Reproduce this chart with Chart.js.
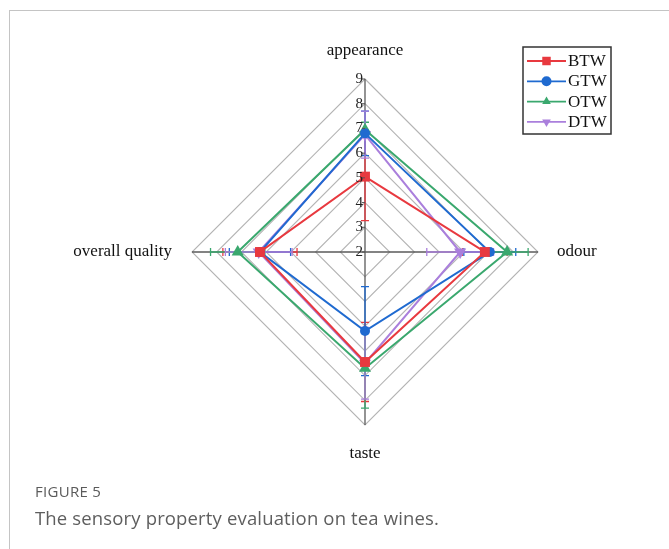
<!DOCTYPE html>
<html>
<head>
<meta charset="utf-8">
<script src="https://cdn.jsdelivr.net/npm/chart.js@4.4.0/dist/chart.umd.min.js"></script>
<style>
  html, body { margin: 0; padding: 0; background: #fff; }
  body { width: 669px; height: 549px; position: relative; overflow: hidden; }
  #frame { position: absolute; left: 9px; top: 10px; width: 700px; height: 600px;
           border-left: 1px solid #c4c4c4; border-top: 1px solid #c4c4c4; }
  #chart { position: absolute; left: 0; top: 0; }
  .fig { position: absolute; left: 35px; top: 481px; font: 400 15px "Open Sans", sans-serif; color: #5a5a5a; letter-spacing: 0.3px; }
  .cap { position: absolute; left: 35px; top: 505px; font: 400 18.5px "Open Sans", sans-serif; color: #5e5e5e; letter-spacing: 0.15px; }
</style>
</head>
<body>
<div id="frame"></div>
<canvas id="chart" width="669" height="549"></canvas>
<div class="fig">FIGURE 5</div>
<div class="cap">The sensory property evaluation on tea wines.</div>
<script>
// Sensory attributes (clockwise from the top)
const categories = ['appearance', 'odour', 'taste', 'overall quality'];
const seriesNames = ['BTW', 'GTW', 'OTW', 'DTW'];

// Mean scores per attribute
const btwScores = [5.05, 6.85, 6.45, 6.25];
const gtwScores = [6.8, 7.05, 5.2, 6.25];
const otwScores = [6.95, 7.75, 6.7, 7.15];
const dtwScores = [6.75, 5.85, 6.5, 6.3];

// Standard deviations per attribute
const btwErrors = [1.78, 0.9, 1.6, 1.5];
const gtwErrors = [0.9, 1.05, 1.8, 1.24];
const otwErrors = [0.3, 0.85, 1.62, 1.1];
const dtwErrors = [0.95, 1.35, 1.45, 1.35];

// Radial axis ticks
const tickValues = [2, 3, 4, 5, 6, 7, 8, 9];

const seriesColors = ['#e8393f', '#1f6ad0', '#3aa86e', '#aa7fdc'];
const pointStyles = ['rect', 'circle', 'triangle', 'triangle'];
const pointRotations = [0, 0, 0, 180];
const pointSizes = [7, 5, 7, 7];

const scores = [btwScores, gtwScores, otwScores, dtwScores];
const errors = [btwErrors, gtwErrors, otwErrors, dtwErrors];

const serif = '"Liberation Serif", "Times New Roman", serif';

// Error bars along each spoke, drawn under the markers
const errorBarPlugin = {
  id: 'errorBars',
  beforeDatasetsDraw(chart) {
    const scale = chart.scales.r;
    const ctx = chart.ctx;
    ctx.save();
    ctx.lineWidth = 1.3;
    chart.data.datasets.forEach((ds, d) => {
      ctx.strokeStyle = ds.borderColor;
      ds.data.forEach((v, i) => {
        const e = errors[d][i];
        const lo = Math.max(scale.min, v - e);
        const hi = Math.min(scale.max, v + e);
        const a = scale.getIndexAngle(i) - Math.PI / 2;
        const px = -Math.sin(a), py = Math.cos(a);
        const p1 = scale.getPointPositionForValue(i, lo);
        const p2 = scale.getPointPositionForValue(i, hi);
        ctx.beginPath();
        ctx.moveTo(p1.x, p1.y);
        ctx.lineTo(p2.x, p2.y);
        const caps = [];
        if (v - e >= scale.min) caps.push(p1);
        if (v + e <= scale.max) caps.push(p2);
        caps.forEach(p => {
          ctx.moveTo(p.x - px * 4, p.y - py * 4);
          ctx.lineTo(p.x + px * 4, p.y + py * 4);
        });
        ctx.stroke();
      });
    });
    ctx.restore();
  }
};

function drawMarker(ctx, style, rotation, r, x, y, color) {
  ctx.save();
  ctx.fillStyle = color;
  ctx.beginPath();
  if (style === 'rect') {
    const s = r * Math.SQRT1_2;
    ctx.rect(x - s, y - s, 2 * s, 2 * s);
  } else if (style === 'circle') {
    ctx.arc(x, y, r, 0, Math.PI * 2);
  } else {
    const rot = rotation * Math.PI / 180;
    for (let k = 0; k < 3; k++) {
      const ang = rot - Math.PI / 2 + k * 2 * Math.PI / 3;
      const tx = x + Math.cos(ang) * r, ty = y + Math.sin(ang) * r;
      if (k === 0) ctx.moveTo(tx, ty); else ctx.lineTo(tx, ty);
    }
    ctx.closePath();
  }
  ctx.fill();
  ctx.restore();
}

// Tick numbers on the top spoke, spoke titles and a boxed legend
const annotatePlugin = {
  id: 'annotate',
  afterDraw(chart) {
    const scale = chart.scales.r;
    const ctx = chart.ctx;
    const cx = scale.xCenter, cy = scale.yCenter, R = scale.drawingArea;
    ctx.save();

    // tick marks and numbers
    ctx.strokeStyle = '#555';
    ctx.lineWidth = 1;
    ctx.fillStyle = '#222';
    ctx.font = '15px ' + serif;
    ctx.textAlign = 'right';
    ctx.textBaseline = 'middle';
    tickValues.forEach(t => {
      const d = scale.getDistanceFromCenterForValue(t);
      ctx.beginPath();
      ctx.moveTo(cx - 3, cy - d);
      ctx.lineTo(cx, cy - d);
      ctx.stroke();
      ctx.fillText(String(t), cx - 2, cy - d);
    });

    // spoke titles
    ctx.font = '17px ' + serif;
    ctx.fillStyle = '#111';
    ctx.textAlign = 'center';
    ctx.fillText(categories[0], cx, cy - R - 28);
    ctx.fillText(categories[2], cx, cy + R + 29);
    ctx.textAlign = 'left';
    ctx.fillText(categories[1], cx + R + 19, cy);
    ctx.textAlign = 'right';
    ctx.fillText(categories[3], cx - R - 20, cy);

    // legend
    const bx = 523, by = 47, bw = 88, bh = 87;
    ctx.strokeStyle = '#333';
    ctx.lineWidth = 1.5;
    ctx.strokeRect(bx, by, bw, bh);
    ctx.textAlign = 'left';
    chart.data.datasets.forEach((ds, d) => {
      const y = by + 14 + d * 20.3;
      ctx.strokeStyle = ds.borderColor;
      ctx.lineWidth = 1.8;
      ctx.beginPath();
      ctx.moveTo(bx + 4, y);
      ctx.lineTo(bx + 43, y);
      ctx.stroke();
      drawMarker(ctx, pointStyles[d], pointRotations[d], d === 0 ? 6 : 5, bx + 23.5, y, ds.borderColor);
      ctx.fillStyle = '#111';
      ctx.fillText(ds.label, bx + 45, y + 0.5);
    });
    ctx.restore();
  }
};

new Chart(document.getElementById('chart'), {
  type: 'radar',
  data: {
    labels: categories,
    datasets: seriesNames.map((name, d) => ({
      label: name,
      data: scores[d],
      borderColor: seriesColors[d],
      backgroundColor: seriesColors[d],
      pointBackgroundColor: seriesColors[d],
      pointBorderColor: seriesColors[d],
      pointBorderWidth: 0,
      pointStyle: pointStyles[d],
      rotation: pointRotations[d],
      pointRadius: pointSizes[d],
      borderWidth: 2,
      fill: false
    }))
  },
  options: {
    responsive: false,
    animation: false,
    devicePixelRatio: 1,
    layout: { padding: { left: 192, right: 131, top: 79, bottom: 124 } },
    plugins: { legend: { display: false }, tooltip: { enabled: false } },
    elements: { line: { tension: 0 } },
    scales: {
      r: {
        min: 2,
        max: 9,
        ticks: { stepSize: 1, display: false },
        pointLabels: { display: false },
        grid: { color: '#b4b4b4', lineWidth: 1.1 },
        angleLines: { color: '#5a5a5a', lineWidth: 1.3 }
      }
    }
  },
  plugins: [errorBarPlugin, annotatePlugin]
});
</script>
</body>
</html>
